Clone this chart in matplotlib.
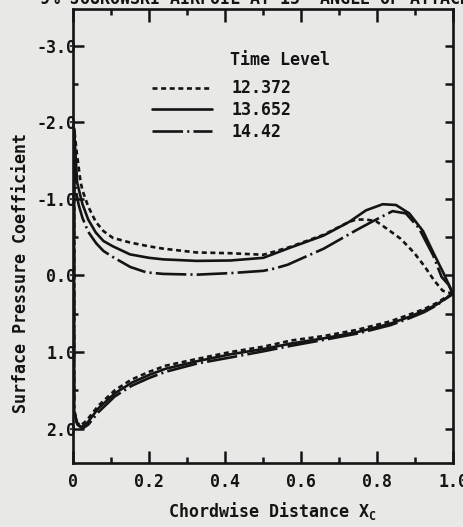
import matplotlib
matplotlib.use("Agg")
import matplotlib.pyplot as plt
import numpy as np

# ---------------- data ----------------
series_labels = ["12.372", "13.652", "14.42"]

# upper surface (suction side), x/c and Cp
x_up_a = [0.003, 0.010, 0.020, 0.025, 0.040, 0.060, 0.080, 0.105, 0.150, 0.200, 0.237, 0.325,
          0.414, 0.501, 0.570, 0.659, 0.727, 0.745, 0.771, 0.797, 0.826, 0.862, 0.897,
          0.925, 0.951, 0.973, 1.000]
cp_up_a = [-1.92, -1.60, -1.22, -1.11, -0.90, -0.70, -0.58, -0.49, -0.43, -0.38, -0.35, -0.30,
           -0.29, -0.27, -0.37, -0.53, -0.70, -0.73, -0.73, -0.71, -0.61, -0.48, -0.30,
           -0.12, 0.07, 0.20, 0.24]

x_up_b = [0.003, 0.007, 0.011, 0.025, 0.040, 0.060, 0.080, 0.105, 0.150, 0.200, 0.237, 0.325,
          0.414, 0.501, 0.570, 0.659, 0.727, 0.771, 0.815, 0.850, 0.885, 0.921, 0.948,
          0.975, 0.988, 1.000]
cp_up_b = [-1.90, -1.55, -1.21, -0.93, -0.73, -0.56, -0.45, -0.38, -0.275, -0.23, -0.21, -0.19,
           -0.195, -0.23, -0.36, -0.52, -0.70, -0.85, -0.93, -0.92, -0.81, -0.58, -0.30,
           -0.03, 0.11, 0.24]

x_up_c = [0.003, 0.005, 0.007, 0.015, 0.025, 0.040, 0.061, 0.080, 0.105, 0.151, 0.193, 0.237,
          0.325, 0.414, 0.501, 0.530, 0.565, 0.610, 0.660, 0.745, 0.790, 0.841, 0.876, 0.910,
          0.948, 0.970, 0.988, 1.000]
cp_up_c = [-1.85, -1.45, -1.12, -0.92, -0.75, -0.57, -0.42, -0.32, -0.24, -0.11, -0.04, -0.02,
           -0.01, -0.03, -0.06, -0.09, -0.14, -0.24, -0.35, -0.59, -0.71, -0.84, -0.81, -0.62,
           -0.26, 0.02, 0.12, 0.24]

# lower surface (pressure side)
x_lo_a = [0.003, 0.010, 0.020, 0.035, 0.067, 0.110, 0.154, 0.200, 0.243, 0.327, 0.415, 0.502,
          0.574, 0.662, 0.748, 0.835, 0.880, 0.924, 0.957, 0.983, 1.000]
cp_lo_a = [1.75, 1.92, 1.96, 1.90, 1.70, 1.50, 1.36, 1.26, 1.18, 1.09, 1.00, 0.93,
           0.85, 0.79, 0.71, 0.60, 0.52, 0.44, 0.36, 0.28, 0.24]

x_lo_b = [0.003, 0.011, 0.022, 0.037, 0.066, 0.110, 0.155, 0.200, 0.243, 0.327, 0.415, 0.502,
          0.573, 0.662, 0.748, 0.835, 0.880, 0.924, 0.957, 0.981, 1.000]
cp_lo_b = [1.76, 1.94, 1.98, 1.93, 1.74, 1.54, 1.40, 1.30, 1.22, 1.12, 1.03, 0.96,
           0.89, 0.82, 0.74, 0.63, 0.55, 0.46, 0.38, 0.30, 0.24]

x_lo_c = [0.003, 0.012, 0.025, 0.040, 0.066, 0.110, 0.155, 0.200, 0.243, 0.327, 0.416, 0.502,
          0.573, 0.662, 0.748, 0.835, 0.880, 0.924, 0.957, 0.979, 1.000]
cp_lo_c = [1.78, 1.95, 2.00, 1.95, 1.79, 1.58, 1.44, 1.34, 1.26, 1.15, 1.07, 0.99,
           0.92, 0.84, 0.76, 0.65, 0.57, 0.48, 0.39, 0.31, 0.24]

y_major = [-3.0, -2.0, -1.0, 0.0, 1.0, 2.0]
y_major_labels = ["-3.0", "-2.0", "-1.0", "0.0", "1.0", "2.0"]
y_minor = [-2.5, -1.5, -0.5, 0.5, 1.5]
y_right = [-3.0, -2.5, -2.0, -1.5, -1.0, -0.5, 0.0, 0.5, 1.0, 1.5, 2.0]
x_major = [0.0, 0.2, 0.4, 0.6, 0.8, 1.0]
x_major_labels = ["0", "0.2", "0.4", "0.6", "0.8", "1.0"]
x_minor = [0.1, 0.3, 0.5, 0.7, 0.9]

title_text = "9% JOUKOWSKI AIRFOIL AT 15\u00b0 ANGLE OF ATTACK"
legend_title = "Time Level"
xlabel_text = "Chordwise Distance X$_\\mathregular{C}$"
ylabel_text = "Surface Pressure Coefficient"

# ---------------- style ----------------
BG = "#e8e8e6"
INK = "#141414"
plt.rcParams["font.family"] = ["DejaVu Sans Mono", "Liberation Mono"]
plt.rcParams["font.weight"] = "bold"
plt.rcParams["axes.unicode_minus"] = False
plt.rcParams["lines.scale_dashes"] = False

fig = plt.figure(figsize=(4.63, 5.27), dpi=100, facecolor=BG)
W, H = 463.0, 527.0
ax_l, ax_r, ax_t, ax_b = 73, 453, 9, 463
ax = fig.add_axes([ax_l / W, 1 - ax_b / H, (ax_r - ax_l) / W, (ax_b - ax_t) / H])
ax.set_facecolor(BG)

LW = 1.9
styles = [
    dict(linestyle=(0, (3.6, 2.6)), lw=LW),
    dict(linestyle="-", lw=LW),
    dict(linestyle=(0, (22, 3, 1.5, 3)), lw=LW),
]

ups = [(x_up_a, cp_up_a), (x_up_b, cp_up_b), (x_up_c, cp_up_c)]
los = [(x_lo_a, cp_lo_a), (x_lo_b, cp_lo_b), (x_lo_c, cp_lo_c)]
handles = []
for (xu, cu), (xl, cl), st, lab in zip(ups, los, styles, series_labels):
    xs = list(reversed(xu)) + list(xl)
    cs = list(reversed(cu)) + list(cl)
    h, = ax.plot(xs, cs, color=INK, label=lab, solid_capstyle="round",
                 solid_joinstyle="round", dash_capstyle="butt", **st)
    handles.append(h)

ax.set_xlim(0.0, 1.0)
ax.set_ylim(2.45, -3.48)

ax.set_xticks(x_major)
ax.set_xticklabels(x_major_labels)
ax.set_xticks(x_minor, minor=True)
ax.set_yticks(y_major)
ax.set_yticklabels(y_major_labels)
ax.set_yticks(y_minor, minor=True)

for s in ax.spines.values():
    s.set_linewidth(1.9)
    s.set_color(INK)

ax.tick_params(axis="x", which="major", direction="in", length=9, width=1.8,
               top=True, bottom=True, colors=INK, labelsize=12, pad=7)
ax.tick_params(axis="x", which="minor", direction="in", length=4.3, width=1.8,
               top=True, bottom=True, colors=INK)
ax.tick_params(axis="y", which="major", direction="in", length=8, width=1.8,
               left=True, right=False, colors=INK, labelsize=12, pad=-2.5)
ax.tick_params(axis="y", which="minor", direction="in", length=3.6, width=1.8,
               left=True, right=False, colors=INK)

ax2 = ax.twinx()
ax2.set_ylim(ax.get_ylim())
ax2.set_yticks(y_right)
ax2.tick_params(axis="y", which="major", direction="in", length=5.8, width=1.8,
                right=True, labelright=False, colors=INK)
for s in ax2.spines.values():
    s.set_visible(False)

for lbl in ax.get_xticklabels() + ax.get_yticklabels():
    lbl.set_fontweight("bold")

leg = ax.legend(handles=handles, loc="upper left", bbox_to_anchor=(0.208, 0.845),
                frameon=False, fontsize=12, handlelength=3.6, handletextpad=1.15,
                labelspacing=0.22, borderpad=0, borderaxespad=0)
for t in leg.get_texts():
    t.set_color(INK)
    t.set_fontweight("bold")

fig.text(230 / W, 1 - 60 / H, legend_title, fontsize=12, fontweight="bold",
         color=INK, ha="left", va="center")
fig.text(272 / W, 1 - 511 / H, xlabel_text, fontsize=12, fontweight="bold",
         color=INK, ha="center", va="center")
fig.text(21 / W, 1 - 273 / H, ylabel_text, fontsize=12, fontweight="bold",
         color=INK, ha="center", va="center", rotation=90)
fig.text(40 / W, 1 - 4 / H, title_text, fontsize=12, fontweight="bold",
         color=INK, ha="left", va="baseline")

fig.savefig("out.png", dpi=100, facecolor=BG)
